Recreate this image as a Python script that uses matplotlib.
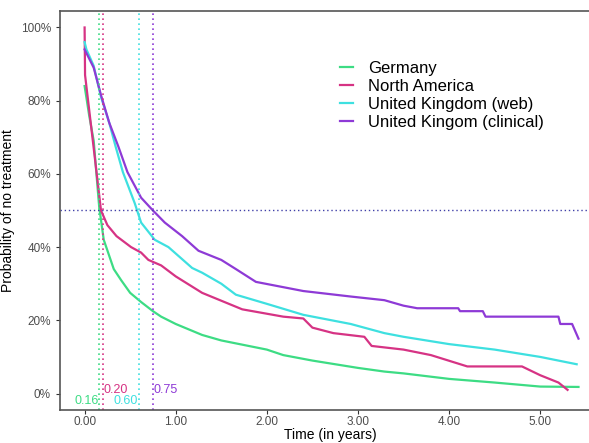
import matplotlib.pyplot as plt

plt.rcParams['font.family'] = ['Liberation Sans', 'DejaVu Sans']

# (czas w latach, prawdopodobienstwo w %)
t_de = [0.0, 0.0, 0.05, 0.1, 0.16, 0.21, 0.32, 0.4, 0.5, 0.62, 0.75, 0.84, 1.0, 1.29, 1.5, 2.0, 2.18, 2.5, 3.0, 3.29, 3.5, 4.0, 4.5, 5.0, 5.42]
p_de = [84, 84, 76, 69, 51, 42, 34, 31, 27.5, 25, 22.5, 21, 19, 16, 14.5, 12, 10.5, 9, 7, 6, 5.5, 4, 3, 1.9, 1.8]

t_na = [0.0, 0.0, 0.005, 0.1, 0.18, 0.25, 0.35, 0.51, 0.62, 0.7, 0.84, 1.0, 1.29, 1.73, 2.18, 2.4, 2.5, 2.73, 3.07, 3.15, 3.5, 3.8, 4.2, 4.8, 5.0, 5.2, 5.3]
p_na = [100, 100, 87, 67, 50, 46, 43, 40, 38.5, 36.5, 35, 32, 27.5, 23, 21, 20.5, 18, 16.5, 15.5, 13, 12, 10.5, 7.4, 7.4, 5, 3, 1]

t_ukw = [0.0, 0.0, 0.02, 0.1, 0.18, 0.27, 0.34, 0.42, 0.55, 0.62, 0.77, 0.92, 1.18, 1.29, 1.5, 1.66, 2.0, 2.4, 2.92, 3.29, 3.5, 4.0, 4.5, 5.0, 5.4]
p_ukw = [96, 96, 94, 89.5, 81, 74, 67.5, 60.5, 52, 46.7, 42, 40, 34.3, 33, 30, 27, 24.5, 21.5, 19, 16.5, 15.5, 13.5, 12, 10, 8]

t_ukc = [0.0, 0.0, 0.02, 0.1, 0.18, 0.27, 0.37, 0.47, 0.62, 0.75, 0.88, 1.07, 1.25, 1.5, 1.66, 1.88, 2.4, 2.92, 3.29, 3.5, 3.65, 4.1, 4.12, 4.37, 4.4, 5.2, 5.22, 5.35, 5.42]
p_ukc = [94, 94, 93, 89, 81.5, 74, 67.5, 60.5, 53.5, 50, 46.7, 43, 39, 36.5, 34, 30.5, 28, 26.5, 25.5, 24, 23.3, 23.3, 22.5, 22.5, 21, 21, 19, 19, 15]

kraje = ['Germany', 'North America', 'United Kingdom (web)', 'United Kingom (clinical)']
kolory = ['#3ddc84', '#d63384', '#3ee0e0', '#8e3ad6']
mediany = [0.16, 0.20, 0.60, 0.75]
dane = [(t_de, p_de), (t_na, p_na), (t_ukw, p_ukw), (t_ukc, p_ukc)]

fig = plt.figure(figsize=(5.89, 4.43), dpi=100)
ax = fig.add_axes([60 / 589, 33 / 443, 1 - 60 / 589 + 0.01, 399 / 443])

for (t, p), k, c in zip(dane, kolory, kraje):
    ax.plot(t, [v / 100 for v in p], color=k, lw=1.6, label=c)

# mediany
ax.axhline(0.5, color='#4040a8', ls=(0, (1, 2)), lw=1)
for m, k in zip(mediany, kolory):
    ax.axvline(m, color=k, ls=(0, (1, 2)), lw=1.2)

ax.text(0.155, -0.02, '0.16', color=kolory[0], ha='right', va='center', fontsize=9)
ax.text(0.21, 0.01, '0.20', color=kolory[1], ha='left', va='center', fontsize=9)
ax.text(0.59, -0.02, '0.60', color=kolory[2], ha='right', va='center', fontsize=9)
ax.text(0.76, 0.01, '0.75', color=kolory[3], ha='left', va='center', fontsize=9)

ax.set_xlim(-0.27, 5.6)
ax.set_ylim(-0.045, 1.045)
ax.set_xticks([0, 1, 2, 3, 4, 5])
ax.set_xticklabels(['0.00', '1.00', '2.00', '3.00', '4.00', '5.00'])
ax.set_yticks([0, 0.2, 0.4, 0.6, 0.8, 1.0])
ax.set_yticklabels(['0%', '20%', '40%', '60%', '80%', '100%'])
ax.tick_params(labelsize=8.5, labelcolor='#4d4d4d', color='#333333', length=3)
ax.tick_params(axis='x', pad=1.5)
for s in ax.spines.values():
    s.set_color('#555555')
    s.set_linewidth(1.2)
ax.spines['right'].set_visible(False)

ax.set_xlabel('Time (in years)', fontsize=10)
ax.xaxis.set_label_coords(0.505, -0.045)
ax.set_ylabel('Probability of no treatment', fontsize=10)

ax.legend(loc='upper left', bbox_to_anchor=(0.495, 0.912), frameon=False,
          fontsize=12, handlelength=0.8, labelspacing=0.17, handletextpad=0.9)

fig.savefig('out.png', dpi=100)
